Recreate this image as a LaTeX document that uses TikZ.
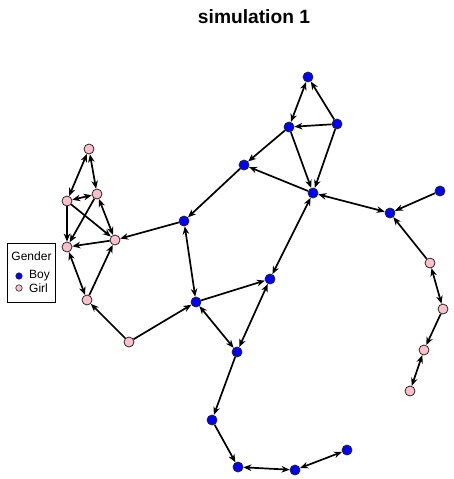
\documentclass[tikz,border=0pt]{standalone}
\usepackage{fontspec}
\setmainfont{Liberation Sans}
\usetikzlibrary{arrows.meta}
\definecolor{boyc}{RGB}{0,0,255}
\definecolor{girlc}{RGB}{255,192,203}
\tikzset{
  vtx/.style={circle, draw=black!85, line width=0.8pt, minimum size=10pt, inner sep=0pt},
  boy/.style={vtx, fill=boyc},
  girl/.style={vtx, fill=girlc},
  tipa/.tip={Stealth[length=8pt,width=6.5pt,inset=2.5pt]},
  edg/.style={line width=1.7pt, -tipa},
  bid/.style={line width=1.7pt, tipa-tipa},
  lgmark/.style={circle, draw=black!85, line width=0.6pt, minimum size=6.5pt, inner sep=0pt}
}
\begin{document}
\begin{tikzpicture}[x=1pt,y=-1pt]
\useasboundingbox (0,0) rectangle (453,479);
\node[font=\bfseries\fontsize{19.2}{22}\selectfont] (title) at (254,17) {simulation 1};
% blue nodes
\node[boy] (B1) at (308,77) {};
\node[boy] (B2) at (289,127) {};
\node[boy] (B3) at (337,124) {};
\node[boy] (B4) at (244,165) {};
\node[boy] (B5) at (313,193) {};
\node[boy] (B6) at (184,221) {};
\node[boy] (B7) at (270,279) {};
\node[boy] (B8) at (196,302) {};
\node[boy] (B9) at (237,352) {};
\node[boy] (B10) at (390,213) {};
\node[boy] (B11) at (440,191) {};
\node[boy] (B12) at (212,420) {};
\node[boy] (B13) at (238,467) {};
\node[boy] (B14) at (295,470) {};
\node[boy] (B15) at (347,450) {};
% pink nodes
\node[girl] (P1) at (89,149) {};
\node[girl] (P2) at (97,194) {};
\node[girl] (P3) at (67,201) {};
\node[girl] (P4) at (115,240) {};
\node[girl] (P5) at (67,247) {};
\node[girl] (P6) at (87,300) {};
\node[girl] (P7) at (129,342) {};
\node[girl] (P8) at (430,263) {};
\node[girl] (P9) at (443,309) {};
\node[girl] (P10) at (424,350) {};
\node[girl] (P11) at (410,391) {};
% edges
\draw[bid] (P1) -- (P3);
\draw[bid] (P1) -- (P2);
\draw[bid] (P3) -- (P2);
\draw[edg] (P3) -- (P5);
\draw[edg] (P3) -- (P4);
\draw[edg] (P2) -- (P5);
\draw[bid] (P2) -- (P4);
\draw[edg] (P4) -- (P5);
\draw[bid] (P5) -- (P6);
\draw[edg] (P6) -- (P4);
\draw[edg] (P7) -- (P6);
\draw[edg] (P7) -- (B8);
\draw[edg] (B6) -- (P4);
\draw[bid] (B6) -- (B8);
\draw[bid] (B1) -- (B2);
\draw[edg] (B3) -- (B1);
\draw[edg] (B3) -- (B2);
\draw[edg] (B2) -- (B5);
\draw[edg] (B3) -- (B5);
\draw[edg] (B2) -- (B4);
\draw[edg] (B5) -- (B4);
\draw[edg] (B4) -- (B6);
\draw[bid] (B5) -- (B10);
\draw[edg] (B11) -- (B10);
\draw[edg] (P8) -- (B10);
\draw[bid] (P8) -- (P9);
\draw[edg] (P9) -- (P10);
\draw[bid] (P10) -- (P11);
\draw[bid] (B5) -- (B7);
\draw[edg] (B8) -- (B7);
\draw[bid] (B8) -- (B9);
\draw[bid] (B9) -- (B7);
\draw[edg] (B9) -- (B12);
\draw[edg] (B12) -- (B13);
\draw[bid] (B13) -- (B14);
\draw[bid] (B14) -- (B15);
% legend
\draw[line width=0.6pt] (7.5,243) rectangle (55,302.5);
\node[font=\fontsize{12}{14}\selectfont] (lgtitle) at (31.5,256) {Gender};
\node[lgmark, fill=boyc] (lgboy) at (19,276) {};
\node[lgmark, fill=girlc] (lggirl) at (19,288) {};
\node[font=\fontsize{12}{14}\selectfont, anchor=west, inner sep=0pt] (lgboyt) at (29,276) {Boy};
\node[font=\fontsize{12}{14}\selectfont, anchor=west, inner sep=0pt] (lggirlt) at (29,288) {Girl};
\end{tikzpicture}
\end{document}
